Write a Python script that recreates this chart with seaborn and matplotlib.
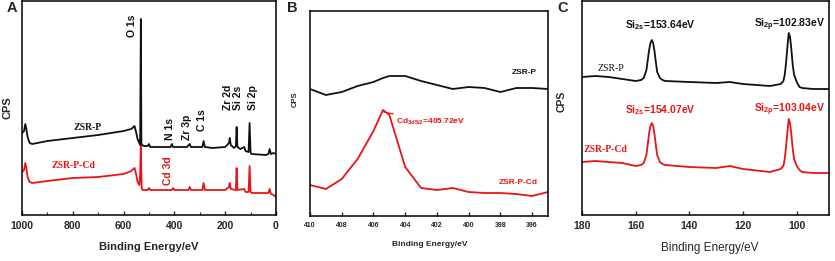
#!/usr/bin/env python3

# Import libraries
import numpy as np
import pandas as pd
import matplotlib as mpl
mpl.use("Agg")
import matplotlib.pyplot as plt
from matplotlib.ticker import MultipleLocator
import seaborn as sns


# Panel A: survey spectra (binding energy, CPS in arbitrary units)
a_energy_p = [1000, 992, 987, 983, 978, 970, 960, 900, 800, 700, 600, 570, 557, 550, 545,
              538, 535, 532, 530, 527, 520, 505, 500, 495, 450, 415, 410, 405, 350, 340,
              335, 290, 285, 280, 250, 200, 185, 182, 178, 165, 158, 155, 152, 140, 125,
              120, 108, 104, 100, 95, 40, 30, 25, 20, 10, 0]
a_cps_p = [82, 84, 91, 86, 78, 72, 71, 74, 77, 80, 84, 86, 89, 82, 76,
           72, 70, 196, 72, 70, 69, 69, 71, 68, 68, 68, 71, 68, 68, 71,
           68, 68, 74, 68, 67, 68, 72, 77, 70, 67, 69, 88, 68, 66, 68,
           64, 63, 92, 62, 61, 60, 61, 66, 61, 62, 61]

a_energy_cd = [1000, 992, 987, 983, 978, 970, 960, 900, 800, 700, 600, 570, 557, 550, 545,
               538, 535, 532, 529, 525, 505, 500, 495, 410, 405, 400, 345, 340, 335, 290,
               285, 280, 200, 185, 182, 178, 158, 155, 152, 125, 120, 108, 104, 100, 95,
               40, 30, 25, 20, 10, 0]
a_cps_cd = [43, 45, 52, 47, 38, 33, 32, 34, 37, 38, 41, 44, 47, 40, 33,
            30, 40, 72, 27, 25, 25, 27, 25, 25, 27, 25, 25, 28, 25, 25,
            32, 25, 25, 28, 32, 26, 25, 47, 25, 26, 23, 23, 49, 23, 22,
            22, 22, 26, 21, 20, 18]

a_peaks = ["O 1s", "N 1s", "Zr 3p", "C 1s", "Zr 2d", "Si 2s", "Si 2p"]
a_peak_x = [567, 417, 350, 291, 189, 150, 91]
a_peak_y = [178, 75, 75, 84, 105, 105, 105]

# Panel B: Cd 3d region
b_energy = [410, 409, 408, 407, 406, 405.4, 405, 404, 403, 402, 401, 400, 399, 398, 397, 396, 395]
b_cps_p = [127, 121, 124, 130, 134, 138, 140, 140, 135, 131, 127, 129, 128, 124, 128, 128, 127]
b_cps_cd = [31, 27, 37, 57, 85, 106, 101, 49, 28, 26, 28, 24, 23, 23, 22, 20, 24]

# Panel C: Si 2s / Si 2p region
c_energy = [180, 175, 170, 165, 160, 158, 157, 156, 155.5, 155, 154.5, 154, 153.5, 153,
            152.5, 152, 151, 150, 149, 140, 130, 125, 120, 110, 106, 105, 104.5, 104,
            103.5, 103, 102.5, 102, 101.5, 101, 100, 99, 98, 94, 90, 88]
c_cps_p = [138, 139, 138, 136, 134, 135, 137, 145, 155, 165, 172, 175, 172, 164,
           153, 143, 137, 135, 134, 133, 132, 133, 131, 129, 131, 134, 140, 152,
           168, 182, 178, 165, 150, 140, 133, 128, 127, 126, 126, 126]
c_cps_cd = [53, 54, 53, 52, 49, 50, 52, 60, 71, 82, 89, 92, 89, 81,
            70, 60, 53, 51, 50, 48, 47, 49, 46, 43, 46, 49, 56, 68,
            83, 96, 92, 80, 66, 56, 49, 45, 43, 42, 42, 42]

BLACK = "#111111"
RED = "#e81416"


def line(ax, x, y, color):
    df = pd.DataFrame({"energy": x, "cps": y})
    sns.lineplot(data=df, x="energy", y="cps", ax=ax, color=color, lw=1.3,
                 estimator=None, sort=False)


def style_axis(ax, xlim, ylim, major, tick_size, minor=None):
    ax.set_xlim(*xlim)
    ax.set_ylim(*ylim)
    ax.xaxis.set_major_locator(MultipleLocator(major))
    if minor:
        ax.xaxis.set_minor_locator(MultipleLocator(minor))
    ax.tick_params(axis="x", which="major", bottom=True, direction="in", length=3,
                   width=1, labelsize=tick_size, pad=4)
    ax.tick_params(axis="x", which="minor", bottom=True, direction="in", length=2,
                   width=0.8)
    ax.tick_params(axis="y", left=False, labelleft=False)
    for lab in ax.get_xticklabels():
        lab.set_fontweight("bold")
    for s in ax.spines.values():
        s.set_visible(True)
        s.set_color("black")
        s.set_linewidth(1.1)


sns.set_style("white")
plt.rcParams["font.family"] = ["Liberation Sans", "DejaVu Sans"]
plt.rcParams["mathtext.fontset"] = "custom"
plt.rcParams["mathtext.rm"] = "Liberation Sans:bold"

fig = plt.figure(figsize=(8.35, 2.61), dpi=100)
W, H = 835, 261


def box(l, t, r, b):
    return [l / W, (H - b) / H, (r - l) / W, (b - t) / H]


axA = fig.add_axes(box(22, 1, 276, 215))
axB = fig.add_axes(box(310, 11, 548, 216))
axC = fig.add_axes(box(582, 1, 829, 215))

# ---- Panel A
line(axA, a_energy_cd, a_cps_cd, RED)
line(axA, a_energy_p, a_cps_p, BLACK)
style_axis(axA, (1000, 0), (0, 214), 200, 7.5, minor=100)
for name, px, py in zip(a_peaks, a_peak_x, a_peak_y):
    axA.text(px, py, name, rotation=90, ha="center", va="bottom",
             fontsize=7.5, fontweight="bold", color=BLACK)
axA.text(425, 30, "Cd 3d", rotation=90, ha="center", va="bottom",
         fontsize=7.5, fontweight="bold", color=RED)
axA.text(740, 88, "ZSR-P", ha="center", va="center", fontsize=7,
         family="Liberation Serif", fontweight="bold", color=BLACK)
axA.text(799, 49, "ZSR-P-Cd", ha="center", va="center", fontsize=7,
         family="Liberation Serif", fontweight="bold", color=RED)
axA.set_xlabel("Binding Energy/eV", fontsize=8, fontweight="bold")
axA.set_ylabel("CPS", fontsize=8, fontweight="bold")
axA.xaxis.set_label_coords(0.5, -0.15)
axA.xaxis.label.set_va("center")
axA.yaxis.set_label_coords(-0.059, 0.5)
axA.yaxis.label.set_va("center")

# ---- Panel B
line(axB, b_energy, b_cps_cd, RED)
line(axB, b_energy, b_cps_p, BLACK)
style_axis(axB, (410, 395), (0, 205), 2, 5)
axB.annotate(r"Cd$_{\rm 3d5/2}$=405.72eV", xy=(405.35, 104), xytext=(404.55, 94),
             ha="left", va="center", fontsize=6, fontweight="bold", color=RED,
             arrowprops=dict(arrowstyle="-", color=RED, lw=0.9, shrinkA=0, shrinkB=0))
axB.text(396.5, 144, "ZSR-P", ha="center", va="center", fontsize=6,
         fontweight="bold", color=BLACK)
axB.text(396.9, 34, "ZSR-P-Cd", ha="center", va="center", fontsize=6,
         fontweight="bold", color=RED)
axB.set_xlabel("Binding Energy/eV", fontsize=6, fontweight="bold")
axB.set_ylabel("CPS", fontsize=5.5, fontweight="bold")
axB.xaxis.set_label_coords(0.504, -0.141)
axB.xaxis.label.set_va("center")
axB.yaxis.set_label_coords(-0.063, 0.57)
axB.yaxis.label.set_va("center")

# ---- Panel C
line(axC, c_energy, c_cps_cd, RED)
line(axC, c_energy, c_cps_p, BLACK)
style_axis(axC, (180, 88), (0, 214), 20, 7.5)
axC.text(164, 190, r"Si$_{\rm 2s}$=153.64eV", ha="left", va="center",
         fontsize=7.5, fontweight="bold", color=BLACK)
axC.text(115.8, 190, r"Si$_{\rm 2p}$=102.83eV", ha="left", va="center",
         fontsize=7.5, fontweight="bold", color=BLACK)
axC.text(164, 105, r"Si$_{\rm 2s}$=154.07eV", ha="left", va="center",
         fontsize=7.5, fontweight="bold", color=RED)
axC.text(116, 105, r"Si$_{\rm 2p}$=103.04eV", ha="left", va="center",
         fontsize=7.5, fontweight="bold", color=RED)
axC.text(169.3, 147, "ZSR-P", ha="center", va="center", fontsize=7,
         family="Liberation Serif", color=BLACK)
axC.text(171.4, 65, "ZSR-P-Cd", ha="center", va="center", fontsize=7,
         family="Liberation Serif", fontweight="bold", color=RED)
axC.set_xlabel("Binding Energy/eV", fontsize=8.5)
axC.set_ylabel("CPS", fontsize=7.5, fontweight="bold")
axC.xaxis.set_label_coords(0.518, -0.154)
axC.xaxis.label.set_va("center")
axC.yaxis.set_label_coords(-0.081, 0.533)
axC.yaxis.label.set_va("center")

# Panel letters
for letter, px in zip(["A", "B", "C"], [12, 292, 563]):
    fig.text(px / W, 1 - 8 / H, letter, ha="center", va="center",
             fontsize=10.5, fontweight="bold")

fig.savefig("out.png", dpi=100)
